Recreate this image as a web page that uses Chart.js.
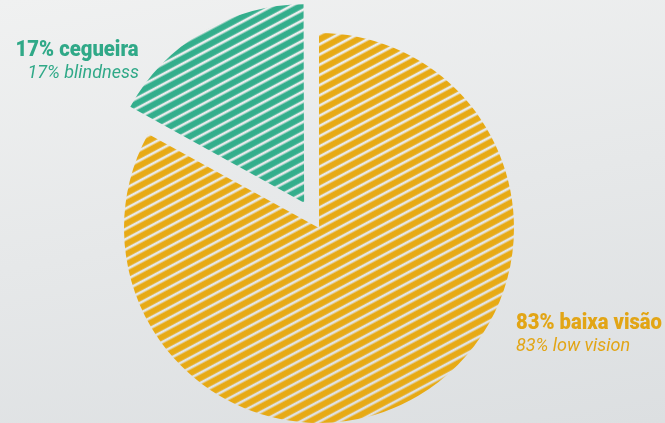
<!DOCTYPE html>
<html>
<head>
<meta charset="utf-8">
<script src="https://cdn.jsdelivr.net/npm/chart.js@4/dist/chart.umd.min.js"></script>
<style>
  html, body { margin: 0; padding: 0; }
  body {
    width: 665px; height: 423px; overflow: hidden; position: relative;
    background: linear-gradient(170deg, #f0f1f1 0%, #e6e8e9 50%, #dcdfe1 100%);
  }
  #c { position: absolute; left: 0; top: 0; }
  .lbl { position: absolute; white-space: nowrap; }
  .main { font-family: Roboto, sans-serif; font-weight: 900; font-size: 22px; line-height: 22px; display: inline-block; }
  .sub { font-family: Roboto, sans-serif; font-style: italic; font-weight: 400; font-size: 18px; line-height: 20px; margin-top: 2px; }
  #l0 { left: 516px; top: 311px; color: #e2a515; }
  #l0 .main { transform-origin: left center; }
  #l1 { right: 526px; top: 38px; color: #30a988; text-align: right; }
  #l1 .main { transform-origin: right center; }
</style>
</head>
<body>
<canvas id="c" width="665" height="423"></canvas>
<div class="lbl" id="l0"><div class="main" id="l0a"></div><div class="sub" id="l0b"></div></div>
<div class="lbl" id="l1"><div class="main" id="l1a"></div><div class="sub" id="l1b"></div></div>
<script>
const categories = ['83% baixa visão', '17% cegueira'];
const subLabels = ['83% low vision', '17% blindness'];
const values = [83, 17];
const colors = ['#e7aa15', '#33ae8c'];

document.getElementById('l0a').textContent = categories[0];
document.getElementById('l0b').textContent = subLabels[0];
document.getElementById('l1a').textContent = categories[1];
document.getElementById('l1b').textContent = subLabels[1];

// condensed look for the bold headings
function condense(id, targetWidth) {
  const el = document.getElementById(id);
  const w = el.getBoundingClientRect().width;
  if (w > 0) el.style.transform = 'scaleX(' + (targetWidth / w) + ')';
}
condense('l0a', 146);
condense('l1a', 123);

function stripePattern(color) {
  const t = document.createElement('canvas');
  t.width = 20; t.height = 9.5;
  const g = t.getContext('2d');
  g.fillStyle = color;
  g.fillRect(0, 1.5, 20, 6.3);
  const p = document.getElementById('c').getContext('2d').createPattern(t, 'repeat');
  p.setTransform(new DOMMatrix().rotate(-28));
  return p;
}

new Chart(document.getElementById('c'), {
  type: 'pie',
  data: {
    labels: categories,
    datasets: [{
      data: values,
      backgroundColor: colors.map(stripePattern),
      borderWidth: 0,
      offset: [0, 117]
    }]
  },
  options: {
    responsive: false,
    animation: false,
    radius: 195,
    layout: { padding: { left: 0, right: 27, top: 33, bottom: 0 } },
    plugins: { legend: { display: false }, tooltip: { enabled: false } }
  }
});
</script>
</body>
</html>
